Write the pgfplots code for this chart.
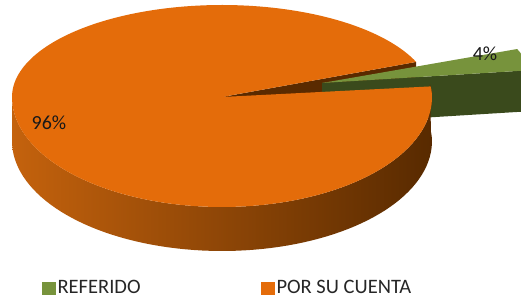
\documentclass[border=0pt]{standalone}
\usepackage{pgfplots}
\usepackage{pgfplotstable}
\pgfplotsset{compat=1.18}
\usepackage{fontspec}
\setmainfont{Carlito}
\definecolor{otop}{HTML}{E46C0A}
\definecolor{oleft}{HTML}{C4620D}
\definecolor{omid}{HTML}{8C4306}
\definecolor{oright}{HTML}{582A00}
\definecolor{oface}{HTML}{5A2A00}
\definecolor{gtop}{HTML}{77933C}
\definecolor{gside}{HTML}{3A4A1C}
\pgfplotstableread{
label value
REFERIDO 4
PORSUCUENTA 96
}\piedata
\pgfplotstablegetelem{0}{value}\of\piedata \let\vA\pgfplotsretval
\pgfplotstablegetelem{1}{value}\of\piedata \let\vB\pgfplotsretval
\pgfmathsetmacro\As{8}
\pgfmathsetmacro\Ae{\As+3.6*\vA}
\pgfmathsetmacro\Be{\Ae+3.6*\vB}
\begin{document}
\begin{tikzpicture}
\begin{axis}[
  width=521pt, height=304pt, scale only axis,
  xmin=0, xmax=521, ymin=0, ymax=304,
  hide axis,
  declare function={
    bb(\a)=(sin(\a)>0 ? 92 : 110);
    angside(\t)=(\t<=1 ? 180+(\Be-180)*\t : \Be-(\Be-180)*(\t-1));
  },
  legend style={draw=none, fill=none, at={(axis cs:42,6)}, anchor=south west,
    legend columns=2, font=\fontsize{20.5}{23}\selectfont, text=black!85,
    /tikz/every even column/.append style={column sep=118pt},
    inner sep=0pt, nodes={inner sep=2.5pt}},
  legend image code/.code={\fill[#1] (0pt,-6.5pt) rectangle (12.5pt,6pt);},
]
% invisible frame so the picture keeps the full area
\addplot[draw=none, forget plot] coordinates {(0,0) (521,304)};
% orange radial face at the gap edge
\addplot[fill=oface, draw=none, forget plot, samples at={0,1,2,3}, variable=\t]
  ({222 + ((\t==1 || \t==2) ? 210*cos(\Ae) : 0)},
   {207 + ((\t==1 || \t==2) ? 92*sin(\Ae) : 0) - ((\t>=2) ? 44 : 0)});
% green radial face
\addplot[fill=gside, draw=none, forget plot, samples at={0,1,2,3}, variable=\t]
  ({322 + ((\t==1 || \t==2) ? 210*cos(\As) : 0)},
   {221 + ((\t==1 || \t==2) ? 92*sin(\As) : 0) - ((\t>=2) ? 41 : 0)});
% green top
\addplot[fill=gtop, draw=none, forget plot, samples at={-1,0,0.05,...,1}, variable=\t]
  ({322 + (\t<0 ? 0 : 1)*210*cos(\As+(\Ae-\As)*max(\t,0))},
   {221 + (\t<0 ? 0 : 1)*92*sin(\As+(\Ae-\As)*max(\t,0))});
% orange side
\addplot[left color=oleft, middle color=omid, right color=oright, draw=none, forget plot,
  domain=0:2, samples=161, variable=\t]
  ({222 + 210*cos(angside(\t))},
   {207 + bb(angside(\t))*sin(angside(\t)) - (\t>1.0001 ? 44 : 0)});
% orange top
\addplot[fill=otop, draw=none, forget plot, samples at={-1,0,0.005,...,1}, variable=\t]
  ({222 + (\t<0 ? 0 : 1)*210*cos(\Ae+(\Be-\Ae)*max(\t,0))},
   {207 + (\t<0 ? 0 : 1)*bb(\Ae+(\Be-\Ae)*max(\t,0))*sin(\Ae+(\Be-\Ae)*max(\t,0))});
\node[font=\fontsize{20}{23}\selectfont, text=black!90] at (axis cs:485,250.5) {\vA\%};
\node[font=\fontsize{20}{23}\selectfont, text=black!90] at (axis cs:49,181) {\vB\%};
\addlegendimage{gtop}
\addlegendentry{REFERIDO}
\addlegendimage{otop}
\addlegendentry{POR SU CUENTA}
\end{axis}
\end{tikzpicture}
\end{document}
